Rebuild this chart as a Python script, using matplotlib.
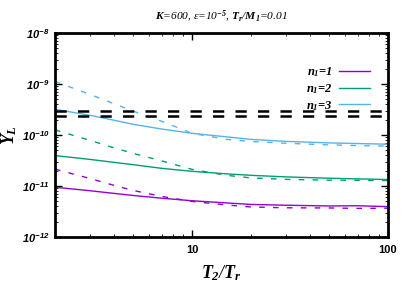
import matplotlib
matplotlib.use("Agg")
import matplotlib.pyplot as plt
from matplotlib.ticker import LogLocator, NullFormatter

plt.rcParams['font.family'] = ['Liberation Serif', 'DejaVu Serif']
plt.rcParams['font.style'] = 'italic'
plt.rcParams['font.weight'] = 'bold'
plt.rcParams['mathtext.fontset'] = 'custom'
plt.rcParams['mathtext.it'] = 'Liberation Serif:italic:bold'
plt.rcParams['mathtext.rm'] = 'Liberation Serif:italic:bold'
plt.rcParams['mathtext.bf'] = 'Liberation Serif:italic:bold'
plt.rcParams['mathtext.sf'] = 'Liberation Sans:bold'
plt.rcParams['mathtext.default'] = 'it'

# Data
x = [2, 3, 4, 5, 7, 10, 15, 20, 30, 50, 70, 100]
n1_solid = [9.46e-12, 8.1e-12, 7.16e-12, 6.53e-12, 5.76e-12, 5.14e-12, 4.66e-12, 4.35e-12, 4.2e-12, 4.06e-12, 4.1e-12, 3.94e-12]
n1_dash = [2.14e-11, 1.41e-11, 1.03e-11, 8.2e-12, 6.25e-12, 4.98e-12, 4.25e-12, 3.88e-12, 3.74e-12, 3.71e-12, 3.64e-12, 3.67e-12]
n2_solid = [3.95e-11, 3.33e-11, 2.91e-11, 2.62e-11, 2.22e-11, 1.94e-11, 1.73e-11, 1.62e-11, 1.51e-11, 1.42e-11, 1.38e-11, 1.34e-11]
n2_dash = [1.26e-10, 7.9e-11, 5.6e-11, 4.37e-11, 3.11e-11, 2.12e-11, 1.62e-11, 1.44e-11, 1.35e-11, 1.30e-11, 1.29e-11, 1.28e-11]
n3_solid = [3.2e-10, 2.44e-10, 1.95e-10, 1.62e-10, 1.31e-10, 1.08e-10, 9.2e-11, 8.2e-11, 7.5e-11, 7.0e-11, 6.8e-11, 6.6e-11]
n3_dash = [1.12e-9, 6.3e-10, 4.1e-10, 2.95e-10, 1.86e-10, 1.08e-10, 8.2e-11, 7.45e-11, 6.9e-11, 6.4e-11, 6.2e-11, 6.05e-11]
hlines = [2.92e-10, 2.38e-10]
labels = ['$n_1$=1', '$n_1$=2', '$n_1$=3']
colors = ['#9400D3', '#009E73', '#56B4E9']
xticks = [10, 100]
xticklabels = ['10', '100']
yticks = [1e-12, 1e-11, 1e-10, 1e-9, 1e-8]
yticklabels = [r'$\mathsf{10^{-12}}$', r'$\mathsf{10^{-11}}$', r'$\mathsf{10^{-10}}$',
               r'$\mathsf{10^{-9}}$', r'$\mathsf{10^{-8}}$']

fig = plt.figure(figsize=(4.07, 2.85), dpi=100)
ax = fig.add_axes([55/407, 1-237/285, (388-55)/407, (237-33)/285])

solids = [n1_solid, n2_solid, n3_solid]
dashes = [n1_dash, n2_dash, n3_dash]
handles = []
for s, d, c, lab in zip(solids, dashes, colors, labels):
    h, = ax.plot(x, s, color=c, lw=1.0, label=lab)
    ax.plot(x, d, color=c, lw=1.0, dashes=(4, 6))
    handles.append(h)
for v in hlines:
    ax.axhline(v, color='black', lw=1.8, dashes=(4.5, 4.5))

ax.set_xscale('log')
ax.set_yscale('log')

tick_font = dict(fontfamily='Liberation Sans', fontstyle='normal', fontweight='bold', fontsize=8)
ax.set_xticks(xticks, labels=xticklabels, **tick_font)
ax.set_yticks(yticks, labels=yticklabels, **tick_font)
ax.xaxis.set_minor_locator(LogLocator(base=10, subs=range(2, 10), numticks=20))
ax.xaxis.set_minor_formatter(NullFormatter())
ax.yaxis.set_minor_locator(LogLocator(base=10, subs=range(2, 10), numticks=20))
ax.yaxis.set_minor_formatter(NullFormatter())
ax.set_xlim(2, 100)
ax.set_ylim(1e-12, 1e-8)

ax.tick_params(which='both', direction='in', top=True, right=True)
ax.tick_params(which='major', length=5, width=1.0)
ax.tick_params(which='minor', length=2.5, width=0.6)
ax.tick_params(axis='x', pad=6)
ax.tick_params(axis='y', pad=4)
for sp in ax.spines.values():
    sp.set_linewidth(2.0)

ax.set_title(r'$K$=600, ε=10$^{-5}$, $T_r$/$M_1$=0.01', fontsize=8.2, pad=9)
ax.set_xlabel('$T_2$/$T_r$', fontsize=13, labelpad=6)
ax.set_ylabel('$Y_L$', fontsize=13, labelpad=2)

leg = ax.legend(handles=handles, loc='upper right', frameon=False, fontsize=9,
                markerfirst=False, handlelength=2.5, handletextpad=0.5,
                labelspacing=0.22, bbox_to_anchor=(0.98, 0.895))

fig.savefig('out.png', dpi=100)
